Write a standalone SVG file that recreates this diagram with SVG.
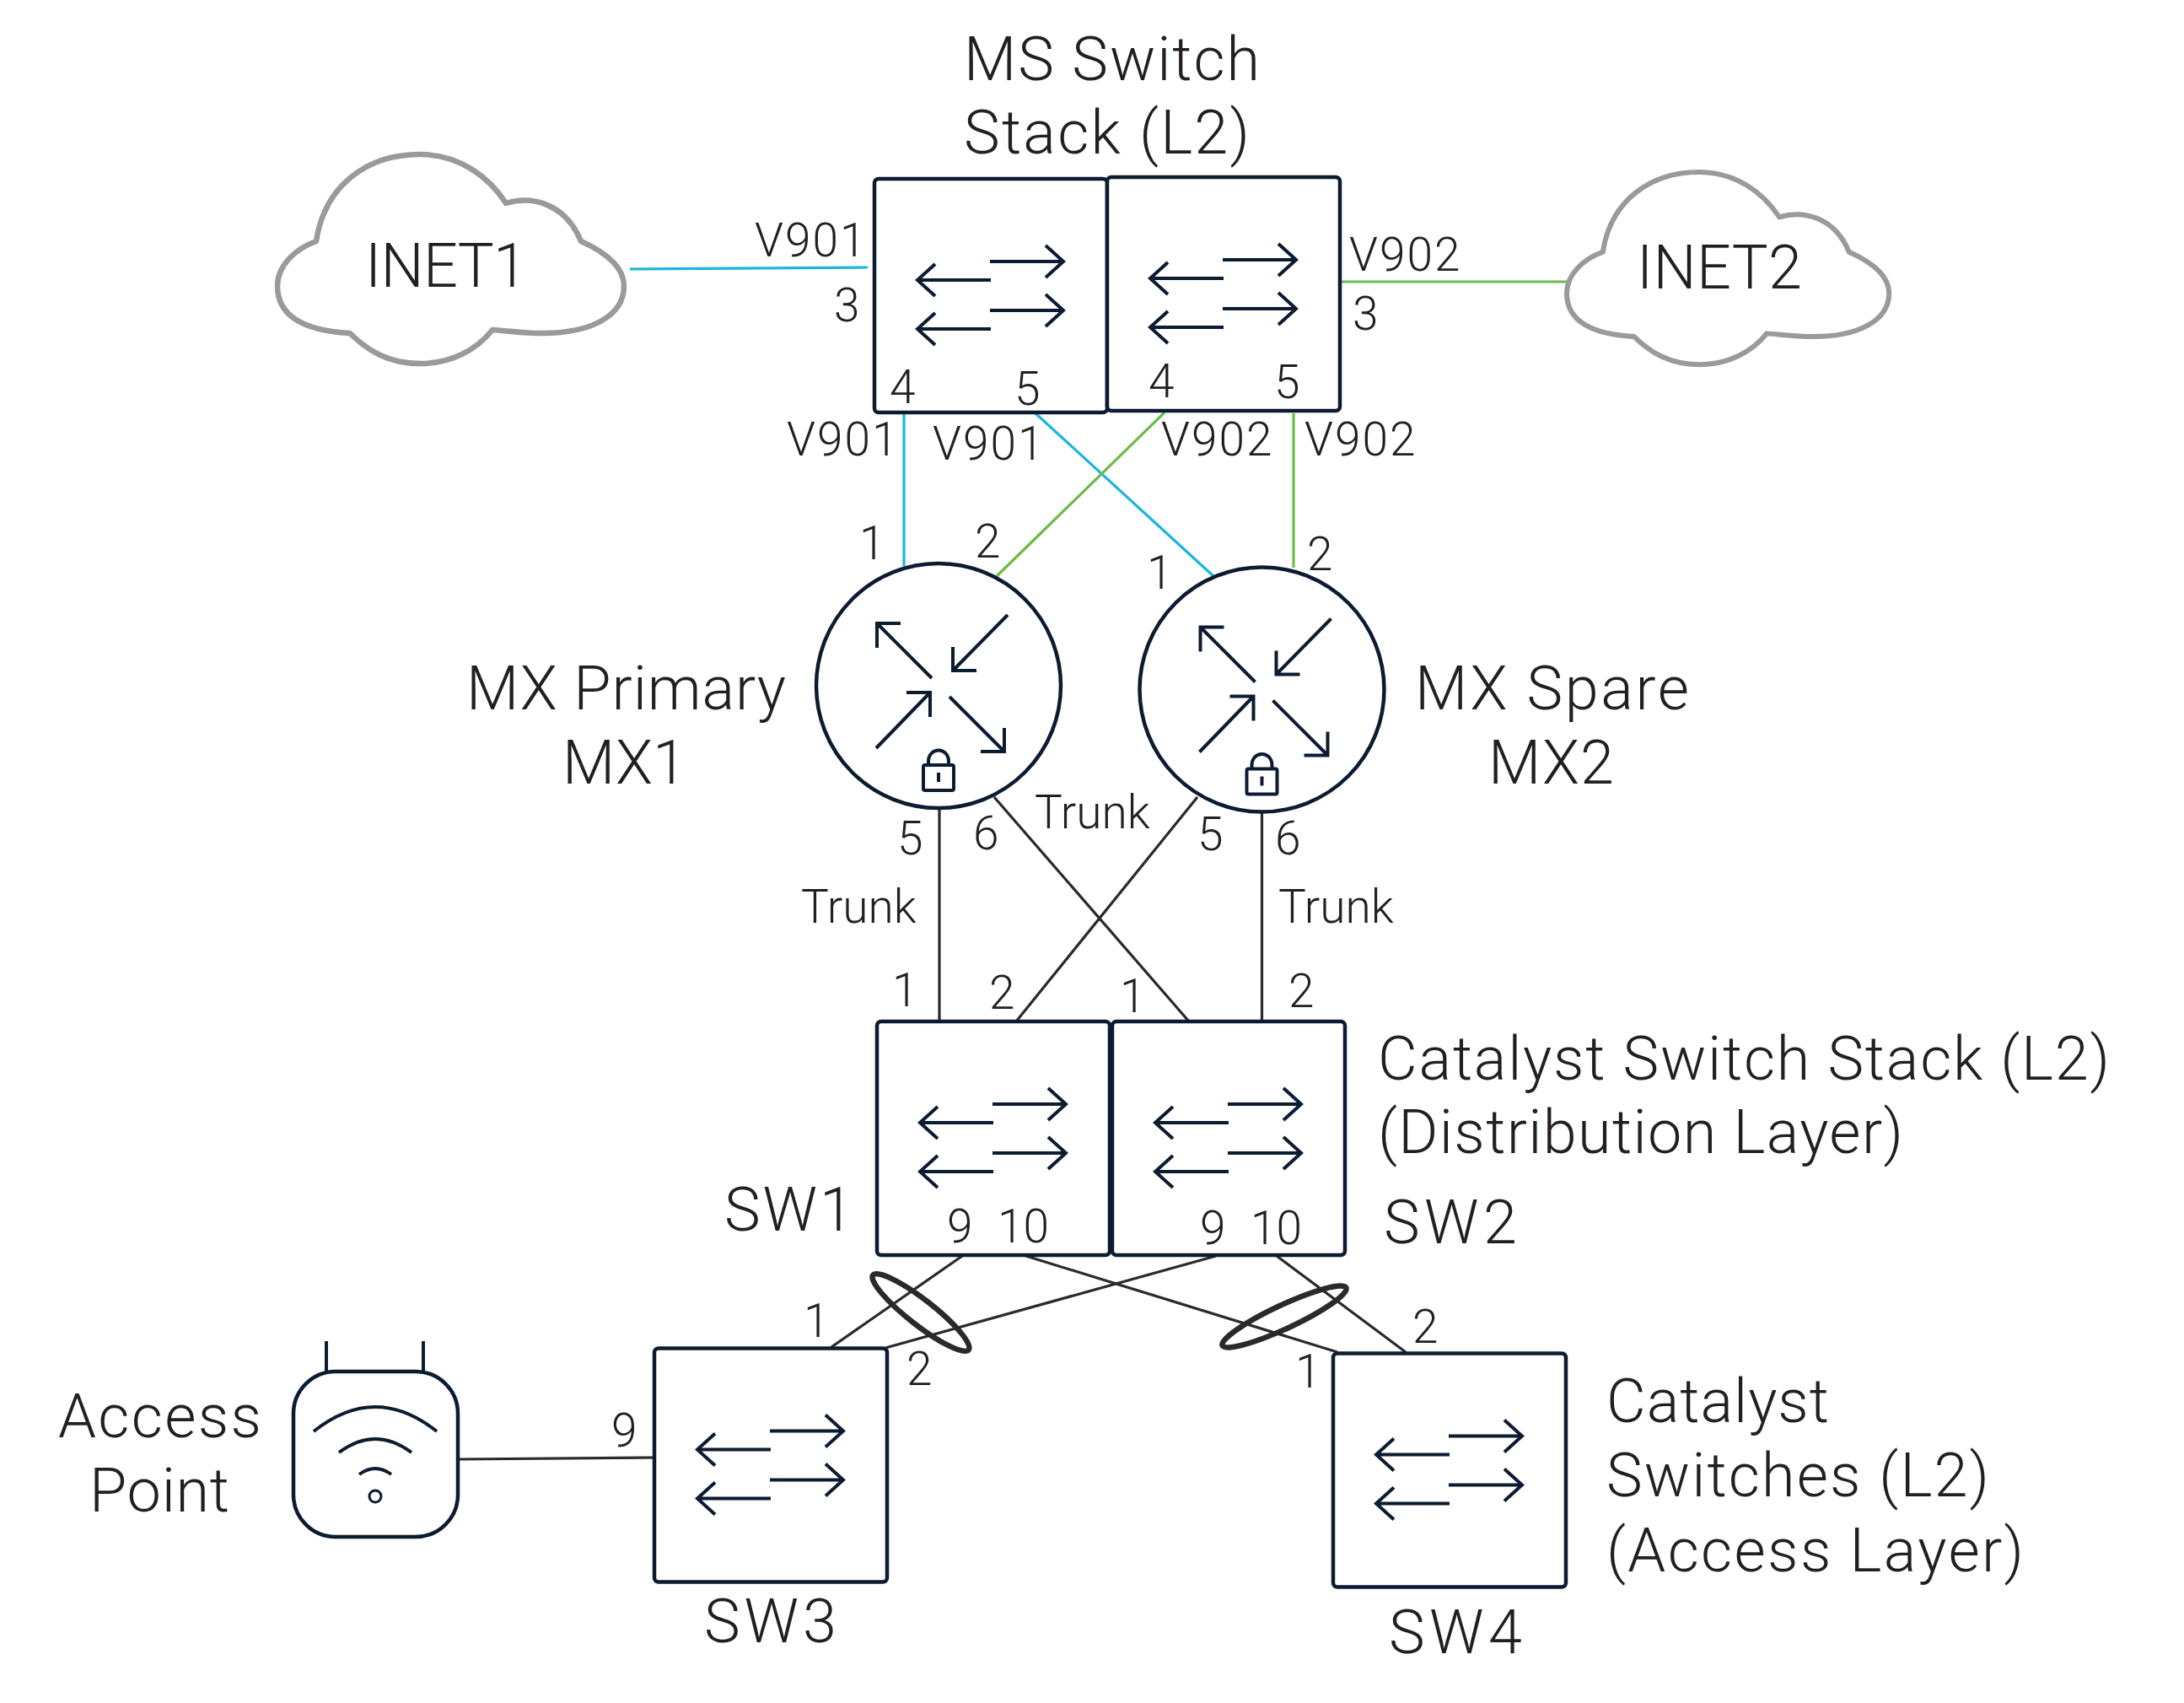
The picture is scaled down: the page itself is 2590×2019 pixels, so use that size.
<svg xmlns="http://www.w3.org/2000/svg" xmlns:xlink="http://www.w3.org/1999/xlink" width="2590" height="2019" viewBox="0 0 2590 2019">
<style>
text{font-family:"Roboto","Liberation Sans",sans-serif;font-weight:300;fill:#231f20}
.l{font-size:72px}
.s{font-size:55px}
.v{font-size:55px;letter-spacing:2px}
.ic{fill:none;stroke:#0c1c30;stroke-width:4}
.box{fill:#fff;stroke:#0c1c30;stroke-width:4.5}
.cloud{fill:#fff;stroke:#9a9a9a;stroke-width:6.5;stroke-linejoin:round}
.blue{stroke:#1ab7dc;stroke-width:3.2;fill:none}
.green{stroke:#6cbb4a;stroke-width:3.2;fill:none}
.blk{stroke:#2a2a2a;stroke-width:3.2;fill:none}
.lag{stroke:#2a2a2a;stroke-width:6.5;fill:none}
</style>
<defs>
<g id="swi">
<rect class="box" x="0" y="0" width="276" height="277" rx="5"/>
<path class="ic" d="M138,120H51M72,101L51,120L72,139M137,98H224M203,79L224,98L203,117M138,178H51M72,159L51,178L72,197M137,156H224M203,137L224,156L203,175"/>
</g>
<g id="rtr">
<circle class="box" cx="0" cy="0" r="145"/>
<path class="ic" d="M-8,-9L-73,-74M-45,-74H-73V-45M82,-84L17,-18M17,-46V-18H45M-74,74L-10,8M-38,8H-10V37M13,13L78,78M50,78H78V50"/>
<rect class="ic" x="-18" y="94" width="36" height="30" rx="2"/>
<path class="ic" d="M-12,94V90C-12,72 12,72 12,90V94"/>
<path class="ic" d="M0,103V114"/>
</g>
<path id="cld" class="cloud" d="M375,286C385,220 435,183 498,183C545,183 580,210 600,241C630,232 670,240 689,286C720,300 740,318 740,339C740,375 700,395 644,395C620,395 600,392 584,391C565,415 535,431 498,431C460,431 435,415 415,395C360,392 329,375 329,339C329,315 350,295 375,286Z"/>
</defs>
<rect width="2590" height="2019" fill="#fff"/>
<g id="connectors">
<path class="blue" d="M747,319L1029,317M1072,490V671M1228,490L1439,683"/>
<path class="green" d="M1589,334H1861M1381,489L1182,683M1534,490V673"/>
<path class="blk" d="M1114,958V1211M1179,945L1410,1211M1420,945L1205,1211M1496.500,962V1212M1144,1487L986,1597M1207,1486L1586,1603M1442,1489L1050,1598M1514,1489L1667,1603M544,1730L782,1728"/>
<ellipse class="lag" cx="1092" cy="1556" rx="72" ry="15" transform="rotate(38 1092 1556)"/>
<ellipse class="lag" cx="1523" cy="1561" rx="81" ry="14" transform="rotate(-25 1523 1561)"/>
</g>
<g id="inet1"><use xlink:href="#cld" href="#cld"/><text class="l" x="433" y="340" textLength="192">INET1</text></g>
<g id="inet2"><use xlink:href="#cld" href="#cld" transform="translate(1858 204) scale(.93 .92) translate(-329 -183)"/><text class="l" x="1941" y="342" textLength="196">INET2</text></g>
<g id="ms-stack">
<text class="l" x="1143" y="95" textLength="351">MS Switch</text><text class="l" x="1143" y="182" textLength="339">Stack (L2)</text>
<use xlink:href="#swi" href="#swi" x="1037" y="212"/><use xlink:href="#swi" href="#swi" x="1313" y="210"/>
<text class="v" x="895" y="304">V901</text><text class="s" x="989" y="381">3</text><text class="s" x="1055" y="478">4</text><text class="s" x="1203" y="480">5</text>
<text class="v" x="933" y="540">V901</text><text class="v" x="1106" y="545">V901</text>
<text class="v" x="1600" y="321">V902</text><text class="s" x="1604" y="391">3</text><text class="s" x="1362" y="471">4</text><text class="s" x="1511" y="472">5</text>
<text class="v" x="1377" y="540">V902</text><text class="v" x="1547" y="540">V902</text>
</g>
<g id="mx1">
<use xlink:href="#rtr" href="#rtr" x="1113" y="813"/>
<text class="l" x="553" y="841" textLength="379">MX Primary</text><text class="l" x="667" y="929" textLength="147">MX1</text>
<text class="s" x="1019" y="663">1</text><text class="s" x="1156" y="661">2</text><text class="s" x="1064" y="1013">5</text><text class="s" x="1154" y="1007">6</text>
<text class="s" x="950" y="1094">Trunk</text><text class="s" x="1227" y="982">Trunk</text>
</g>
<g id="mx2">
<use xlink:href="#rtr" href="#rtr" x="1496.500" y="817.500"/>
<text class="l" x="1678" y="841" textLength="325">MX Spare</text><text class="l" x="1765" y="929" textLength="149">MX2</text>
<text class="s" x="1360" y="698">1</text><text class="s" x="1550" y="676">2</text><text class="s" x="1420" y="1008">5</text><text class="s" x="1512" y="1013">6</text>
<text class="s" x="1516" y="1094">Trunk</text>
</g>
<g id="sw1">
<use xlink:href="#swi" href="#swi" x="1040" y="1211"/>
<text class="l" x="859" y="1459" textLength="153">SW1</text>
<text class="s" x="1058" y="1193">1</text><text class="s" x="1173" y="1196">2</text><text class="s" x="1123" y="1473">9</text><text class="s" x="1183" y="1473">10</text>
</g>
<g id="sw2">
<use xlink:href="#swi" href="#swi" x="1319" y="1211"/>
<text class="l" x="1641" y="1474" textLength="158">SW2</text>
<text class="l" x="1634" y="1280" textLength="868">Catalyst Switch Stack (L2)</text><text class="l" x="1634" y="1367" textLength="623">(Distribution Layer)</text>
<text class="s" x="1328" y="1200">1</text><text class="s" x="1528" y="1194">2</text><text class="s" x="1423" y="1475">9</text><text class="s" x="1483" y="1475">10</text>
</g>
<g id="sw3">
<use xlink:href="#swi" href="#swi" x="776" y="1598.500"/>
<text class="l" x="835" y="1947" textLength="157">SW3</text>
<text class="s" x="953" y="1585">1</text><text class="s" x="1075" y="1642">2</text><text class="s" x="725" y="1715">9</text>
</g>
<g id="sw4">
<use xlink:href="#swi" href="#swi" x="1581" y="1604.500"/>
<text class="l" x="1647" y="1960" textLength="158">SW4</text>
<text class="l" x="1905" y="1686" textLength="264">Catalyst</text><text class="l" x="1905" y="1774" textLength="454">Switches (L2)</text><text class="l" x="1905" y="1863" textLength="495">(Access Layer)</text>
<text class="s" x="1536" y="1645">1</text><text class="s" x="1675" y="1592">2</text>
</g>
<g id="ap">
<rect class="box" x="348" y="1626" width="195" height="196" rx="50"/>
<path class="ic" d="M387,1590V1626M502,1590V1626"/>
<path class="ic" d="M372,1697Q445,1639 518,1697M402,1722Q445,1690 488,1722M426,1748Q445,1734 464,1748"/>
<circle class="ic" cx="445" cy="1774" r="7" style="stroke-width:3"/>
<text class="l" x="69" y="1704" textLength="241">Access</text><text class="l" x="106" y="1792" textLength="166">Point</text>
</g>
</svg>
